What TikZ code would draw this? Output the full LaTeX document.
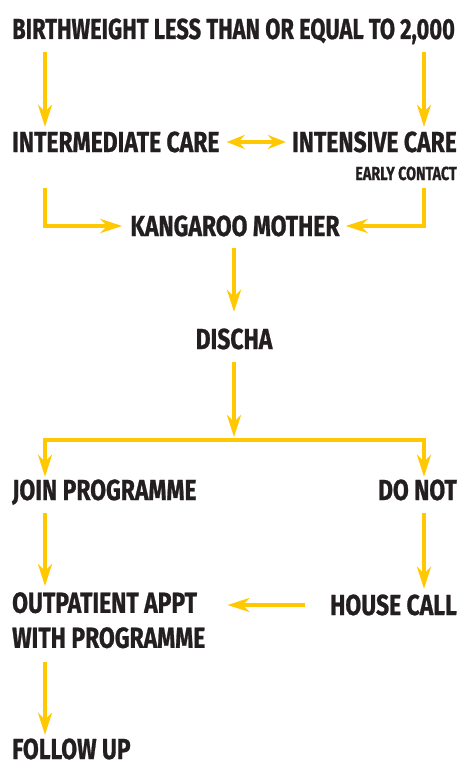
\documentclass[tikz,border=0pt]{standalone}
\usepackage{fontspec}
\usetikzlibrary{arrows.meta}
\newfontfamily\lblfam{Fira Sans}[FakeStretch=0.79, FakeBold=0.8]
\newfontfamily\titlefam{Fira Sans}[FakeStretch=0.755, FakeBold=0.8]
\newcommand\lblfont{\lblfam\bfseries\fontsize{29pt}{35pt}\selectfont}
\newcommand\titlefont{\titlefam\bfseries\fontsize{29pt}{35pt}\selectfont}
\newcommand\smallfont{\titlefam\bfseries\fontsize{19pt}{22pt}\selectfont}
\definecolor{arrowy}{RGB}{255,200,0}
\definecolor{txt}{RGB}{35,31,32}
\tikzset{
  lbl/.style={inner sep=0pt, font=\lblfont, text=txt, text height=20pt, text depth=0pt},
  titlelbl/.style={inner sep=0pt, font=\titlefont, text=txt, text height=20pt, text depth=0pt},
  lblml/.style={inner sep=0pt, font=\lblfont, text=txt, align=left},
  smalllbl/.style={inner sep=0pt, font=\smallfont, text=txt, text height=13pt, text depth=0pt},
  arr/.style={draw=arrowy, line width=4pt, -{Stealth[length=22pt,width=14pt,inset=7pt]}},
  darr/.style={draw=arrowy, line width=4pt, {Stealth[length=18pt,width=14pt,inset=6pt]}-{Stealth[length=18pt,width=14pt,inset=6pt]}},
}
\begin{document}
\begin{tikzpicture}[x=1pt,y=1pt]
\useasboundingbox (0,0) rectangle (461,-765);
\coordinate (L) at (45,0);
\coordinate (R) at (424,0);
\coordinate (M) at (234,0);
\coordinate (brM) at (234,-440);

\node[titlelbl, anchor=base west] (bw) at (12,-39) {BIRTHWEIGHT LESS THAN OR EQUAL TO 2,000};
\node[lbl, anchor=base west] (im) at (12,-152) {INTERMEDIATE CARE};
\node[lbl, anchor=base east] (ic) at (457,-152) {INTENSIVE CARE};
\node[smalllbl, anchor=base east] (ec) at (457,-180) {EARLY CONTACT};
\node[lbl, anchor=base] (km) at (235,-236) {KANGAROO MOTHER};
\node[lbl, anchor=base] (di) at (234,-349) {DISCHA};
\node[lbl, anchor=base west] (jp) at (12,-500) {JOIN PROGRAMME};
\node[lbl, anchor=base east] (dn) at (457,-500) {DO NOT};
\node[lblml, anchor=north west] (op) at (12,-592) {OUTPATIENT APPT\\WITH PROGRAMME};
\node[lbl, anchor=base east] (hc) at (457,-615) {HOUSE CALL};
\node[lbl, anchor=base west] (fu) at (12,-759) {FOLLOW UP};

\draw[arr, shorten <=13pt, shorten >=5pt] (bw.south -| L) -- (im.north -| L);
\draw[arr, shorten <=13pt, shorten >=5pt] (bw.south -| R) -- (ic.north -| R);
\draw[darr, shorten <=7pt, shorten >=6pt] (im.east) -- (ic.west);
\draw[arr, shorten <=36pt, shorten >=8pt] (im.south -| L) |- (km.west);
\draw[arr, shorten <=8pt, shorten >=6pt] (ec.south -| R) |- (km.east);
\draw[arr, shorten <=12pt, shorten >=17pt] (km.south -| M) -- (di.north -| M);
\draw[arr, shorten <=13pt, shorten >=3pt] (di.south -| M) -- (brM);
\draw[arr, shorten >=3pt] (brM) -| (jp.north -| L);
\draw[arr, shorten >=3pt] (brM) -| (dn.north -| R);
\draw[arr, shorten <=13pt, shorten >=6pt] (jp.south -| L) -- (op.north -| L);
\draw[arr, shorten <=13pt, shorten >=6pt] (dn.south -| R) -- (hc.north -| R);
\draw[arr, shorten <=25pt, shorten >=22pt] (hc.west) -- (hc.west -| op.east);
\draw[arr, shorten <=14pt, shorten >=4pt] (op.south -| L) -- (fu.north -| L);
\end{tikzpicture}
\end{document}
